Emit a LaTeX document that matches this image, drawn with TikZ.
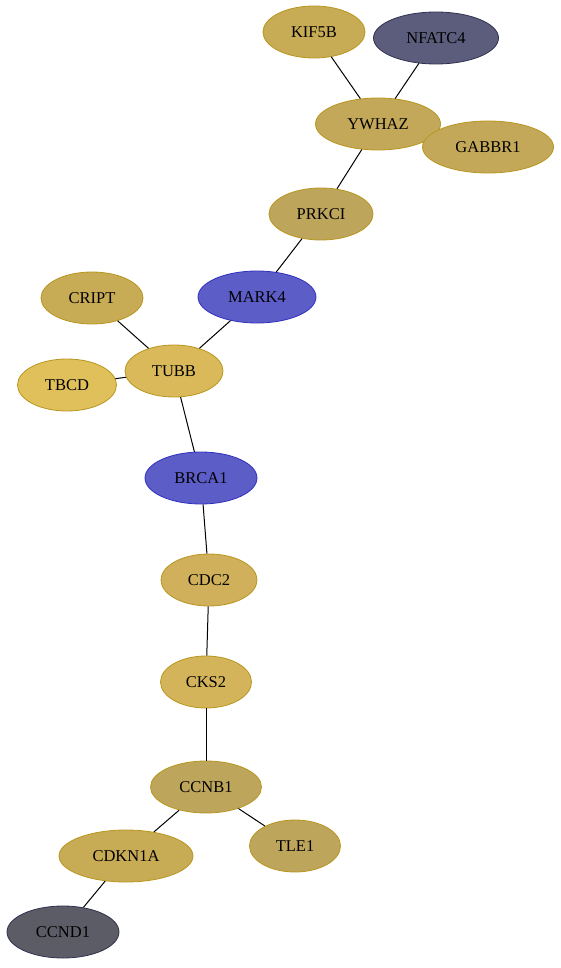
\documentclass[tikz,border=0pt]{standalone}
\usepackage{fontspec}
\setmainfont{Liberation Serif}
\usetikzlibrary{shapes.geometric}

\definecolor{goldA}{HTML}{C8AB55}
\definecolor{goldB}{HTML}{C4A85A}
\definecolor{goldC}{HTML}{BEA55C}
\definecolor{goldD}{HTML}{D9B95A}
\definecolor{goldE}{HTML}{E0C05A}
\definecolor{goldF}{HTML}{D0B05A}
\definecolor{goldG}{HTML}{D4B45A}
\definecolor{goldline}{HTML}{B8961E}
\definecolor{blueA}{HTML}{5D5DC8}
\definecolor{blueline}{HTML}{3030C0}
\definecolor{slateA}{HTML}{5C5C7C}
\definecolor{slateB}{HTML}{5C5C66}
\definecolor{slateline}{HTML}{303050}

\begin{document}
\begin{tikzpicture}[x=1pt,y=-1pt,
    gene/.style={ellipse, draw=goldline, line width=0.8pt, inner sep=0pt,
        minimum height=52pt, font=\fontsize{16.5}{18}\selectfont},
    gold/.style={gene, fill=#1, draw=goldline},
    blue/.style={gene, fill=blueA, draw=blueline},
    slate/.style={gene, fill=#1, draw=slateline}]
    \useasboundingbox (0,0) rectangle (560,968);

    % upper part
    \node[gold=goldA, minimum width=102pt] (kif5b) at (314,32) {KIF5B};
    \node[slate=slateA, minimum width=125pt] (nfatc4) at (436,38) {NFATC4};
    \node[gold=goldB, minimum width=125pt] (ywhaz) at (378,124) {YWHAZ};
    \node[gold=goldB, minimum width=131pt] (gabbr1) at (488,147) {GABBR1};
    \node[gold=goldC, minimum width=104pt] (prkci) at (321,214) {PRKCI};
    \node[blue, minimum width=118pt] (mark4) at (257,297) {MARK4};

    % tubulin cluster
    \node[gold=goldA, minimum width=102pt] (cript) at (92,298) {CRIPT};
    \node[gold=goldD, minimum width=98pt] (tubb) at (174,371) {TUBB};
    \node[gold=goldE, minimum width=99pt] (tbcd) at (67,385) {TBCD};
    \node[blue, minimum width=112pt] (brca1) at (201,478) {BRCA1};

    % cell cycle chain
    \node[gold=goldF, minimum width=96pt] (cdc2) at (209,580) {CDC2};
    \node[gold=goldG, minimum width=91pt] (cks2) at (206,682) {CKS2};
    \node[gold=goldC, minimum width=111pt] (ccnb1) at (206,787) {CCNB1};
    \node[gold=goldC, minimum width=91pt] (tle1) at (295,846) {TLE1};
    \node[gold=goldA, minimum width=134pt] (cdkn1a) at (126,856) {CDKN1A};
    \node[slate=slateB, minimum width=112pt] (ccnd1) at (63,932) {CCND1};

    % interactions
    \foreach \a/\b in {kif5b/ywhaz, nfatc4/ywhaz, ywhaz/prkci, prkci/mark4, mark4/tubb,
        cript/tubb, tbcd/tubb, tubb/brca1, brca1/cdc2, cdc2/cks2, cks2/ccnb1,
        ccnb1/cdkn1a, ccnb1/tle1, cdkn1a/ccnd1} {
        \draw[line width=1pt] (\a) -- (\b);
    }
\end{tikzpicture}
\end{document}
